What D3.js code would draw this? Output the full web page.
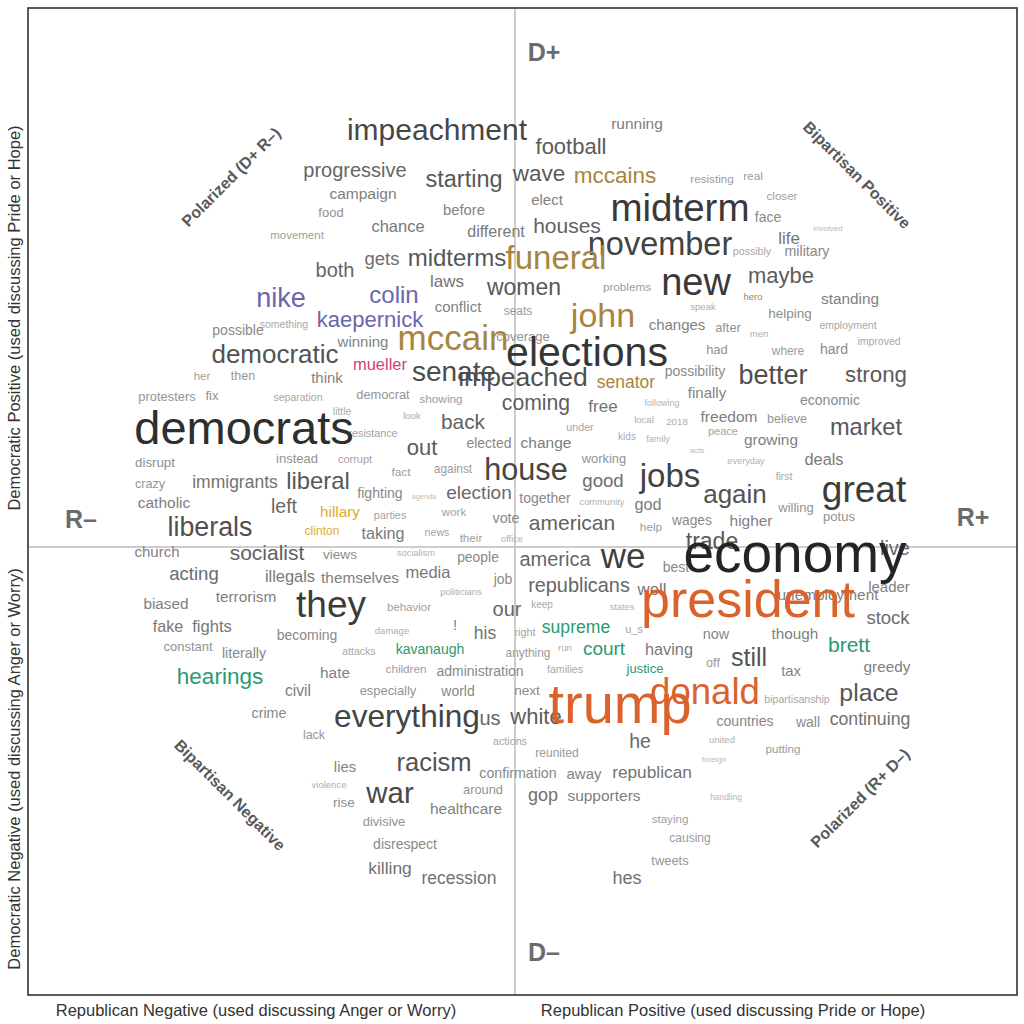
<!DOCTYPE html>
<html><head><meta charset="utf-8">
<script src="https://cdn.jsdelivr.net/npm/d3@7"></script>
<style>body{margin:0;background:#fff}svg{display:block}</style>
</head><body>
<svg id="chart" width="1024" height="1024"></svg>
<script>
// ---- DATA ----
const words = [
"impeachment","progressive","campaign","food","movement","both","nike","possible","something","kaepernick",
"colin","democratic","winning","mueller","her","then","think","gets","midterms","chance",
"before","different","starting","laws","conflict","women","seats","mccain","coverage","funeral",
"senate","impeached","elections","john","senator","football","running","wave","mccains","elect",
"houses","midterm","november","new","problems","changes","resisting","real","closer","face",
"involved","life","possibly","military","maybe","hero","speak","standing","helping","after",
"men","employment","improved","had","where","hard","possibility","better","strong","finally",
"economic","following","local","2018","freedom","believe","market","peace","family","kids",
"growing","acts","everyday","deals","first","jobs","great","again","willing","wages",
"higher","potus","trade","economy","live","best","leader","unemployment","president","stock",
"now","though","brett","having","off","still","tax","greedy","justice","donald",
"bipartisanship","place","countries","wall","continuing","united","putting","foreign","handling","staying",
"causing","tweets","republican","hes","he","trump","supporters","away","gop","reunited",
"confirmation","actions","white","us","everything","next","world","especially","administration","children",
"families","kavanaugh","attacks","anything","run","court","supreme","u_s","right","his",
"!","damage","our","keep","states","behavior","politicians","racism","around","war",
"healthcare","divisive","disrespect","killing","recession","lies","violence","rise","lack","crime",
"civil","hate","hearings","literally","constant","becoming","fake","fights","biased","terrorism",
"they","protesters","fix","separation","democrat","showing","little","look","resistance","back",
"coming","free","under","elected","change","out","instead","corrupt","fact","against",
"house","working","good","immigrants","liberal","fighting","agenda","election","together","community",
"god","disrupt","crazy","catholic","left","hillary","clinton","liberals","parties","work",
"vote","american","help","taking","news","their","office","church","socialist","views",
"socialism","people","america","we","acting","illegals","themselves","media","job","republicans",
"well","democrats"];

// Republican sentiment score (x axis)
const repScore = [
-0.78,-1.60,-1.52,-1.84,-2.18,-1.80,-2.34,-2.77,-2.31,-1.45,
-1.21,-2.40,-1.52,-1.35,-3.13,-2.72,-1.88,-1.33,-0.58,-1.17,
-0.51,-0.19,-0.51,-0.68,-0.57,0.09,0.03,-0.62,0.08,0.41,
-0.61,0.08,0.72,0.88,1.11,0.56,1.22,0.24,1.00,0.32,
0.52,1.65,1.45,1.81,1.12,1.62,1.97,2.38,2.67,2.53,
3.13,2.74,2.37,2.92,2.66,2.38,1.88,3.35,2.75,2.13,
2.44,3.33,3.64,2.02,2.73,3.19,1.80,2.58,3.61,1.92,
3.15,1.47,1.29,1.62,2.14,2.72,3.51,2.08,1.43,1.12,
2.56,1.82,2.31,3.09,2.69,1.55,3.49,2.20,2.81,1.77,
2.36,3.24,1.97,2.80,3.80,1.61,3.74,3.13,2.33,3.73,
2.01,2.80,3.34,1.54,1.98,2.34,2.76,3.72,1.30,1.90,
2.82,3.54,2.30,2.93,3.55,2.07,2.68,1.99,2.11,1.55,
1.75,1.55,1.37,1.12,1.25,1.05,0.89,0.69,0.28,0.42,
0.03,-0.05,0.21,-0.25,-1.08,0.12,-0.57,-1.27,-0.35,-1.09,
0.50,-0.85,-1.56,0.13,0.50,0.89,0.61,1.19,0.10,-0.30,
-0.60,-1.23,-0.08,0.27,1.07,-1.06,-0.54,-0.81,-0.32,-1.25,
-0.49,-1.31,-1.10,-1.25,-0.56,-1.70,-1.86,-1.71,-2.01,-2.46,
-2.17,-1.80,-2.95,-2.71,-3.27,-2.08,-3.47,-3.03,-3.49,-2.69,
-1.84,-3.48,-3.03,-2.17,-1.32,-0.74,-1.73,-1.03,-1.42,-0.52,
0.21,0.88,0.65,-0.26,0.31,-0.93,-2.18,-1.60,-1.14,-0.62,
0.11,0.89,0.88,-2.80,-1.97,-1.35,-0.91,-0.36,0.30,0.87,
1.33,-3.60,-3.65,-3.51,-2.31,-1.75,-1.93,-3.05,-1.25,-0.61,
-0.09,0.57,1.36,-1.32,-0.78,-0.44,-0.03,-3.58,-2.48,-1.75,
-0.99,-0.37,0.40,1.08,-3.21,-2.25,-1.55,-0.87,-0.12,0.64,
1.37,-2.71];

// Democratic sentiment score (y axis)
const demScore = [
4.17,3.77,3.53,3.34,3.12,2.77,2.49,2.17,2.22,2.27,
2.52,1.93,2.05,1.82,1.71,1.71,1.69,2.88,2.89,3.20,
3.37,3.15,3.68,2.66,2.40,2.60,2.36,2.09,2.10,2.89,
1.75,1.70,1.95,2.31,1.65,4.00,4.23,3.73,3.71,3.47,
3.21,3.39,3.03,2.65,2.60,2.22,3.68,3.71,3.51,3.30,
3.19,3.09,2.95,2.96,2.71,2.50,2.40,2.48,2.33,2.19,
2.13,2.21,2.05,1.97,1.96,1.98,1.76,1.72,1.72,1.54,
1.47,1.44,1.27,1.25,1.30,1.28,1.20,1.16,1.08,1.10,
1.07,0.97,0.86,0.87,0.70,0.71,0.57,0.53,0.39,0.27,
0.26,0.30,0.06,-0.07,-0.01,-0.20,-0.40,-0.48,-0.53,-0.71,
-0.87,-0.87,-0.98,-1.03,-1.16,-1.11,-1.24,-1.20,-1.22,-1.45,
-1.53,-1.46,-1.74,-1.75,-1.72,-1.93,-2.02,-2.12,-2.50,-2.72,
-2.91,-3.14,-2.25,-3.31,-1.95,-1.58,-2.49,-2.27,-2.48,-2.06,
-2.26,-1.94,-1.70,-1.71,-1.70,-1.44,-1.44,-1.44,-1.24,-1.22,
-1.23,-1.02,-1.05,-1.06,-1.01,-1.02,-0.80,-0.82,-0.85,-0.86,
-0.78,-0.84,-0.62,-0.58,-0.60,-0.60,-0.45,-2.16,-2.43,-2.46,
-2.62,-2.75,-2.97,-3.21,-3.31,-2.20,-2.38,-2.56,-1.88,-1.66,
-1.44,-1.26,-1.30,-1.06,-1.00,-0.88,-0.80,-0.80,-0.57,-0.50,
-0.58,1.50,1.51,1.49,1.52,1.48,1.35,1.31,1.14,1.25,
1.44,1.41,1.20,1.04,1.04,0.99,0.88,0.88,0.75,0.78,
0.77,0.88,0.66,0.65,0.66,0.54,0.50,0.54,0.49,0.45,
0.42,0.84,0.63,0.44,0.40,0.35,0.16,0.20,0.32,0.35,
0.29,0.24,0.20,0.13,0.15,0.09,0.08,-0.05,-0.06,-0.07,
-0.06,-0.10,-0.12,-0.09,-0.27,-0.30,-0.31,-0.26,-0.32,-0.38,
-0.42,1.19];

// relative frequency (word weight)
const weight = [
3.0,2.0,1.55,1.3,1.15,2.0,2.7,1.4,1.05,2.2,
2.4,2.6,1.5,1.65,1.15,1.25,1.5,1.85,2.4,1.65,
1.48,1.6,2.35,1.7,1.5,2.3,1.2,3.5,1.3,3.3,
2.8,2.65,4.1,3.4,1.75,2.2,1.55,2.25,2.25,1.5,
2.1,3.85,3.25,3.8,1.17,1.5,1.17,1.18,1.16,1.4,
0.8,1.7,1.06,1.42,2.2,0.95,0.95,1.53,1.35,1.28,
0.95,1.05,1.05,1.3,1.19,1.4,1.4,2.7,2.23,1.5,
1.4,0.9,0.95,0.97,1.55,1.26,2.36,1.1,0.9,1.0,
1.54,0.8,0.92,1.63,1.03,3.3,3.7,2.6,1.3,1.38,
1.54,1.3,2.3,5.5,2.0,1.4,1.5,1.54,5.2,1.85,
1.44,1.53,2.1,1.63,1.26,2.5,1.48,1.53,1.3,3.66,
1.06,2.48,1.41,1.4,1.77,0.95,1.17,0.8,0.84,1.16,
1.2,1.29,1.73,1.8,1.95,5.6,1.55,1.5,1.8,1.2,
1.42,1.07,2.2,2.0,3.16,1.36,1.4,1.29,1.4,1.17,
1.06,1.4,1.05,1.19,0.97,1.9,1.76,1.1,1.08,1.75,
1.5,0.95,2.0,1.0,0.93,1.15,0.95,2.55,1.28,2.94,
1.54,1.3,1.4,1.74,1.75,1.49,0.95,1.35,1.25,1.43,
1.56,1.54,2.25,1.42,1.3,1.4,1.62,1.66,1.53,1.54,
3.7,1.29,1.3,1.05,1.28,1.18,1.03,0.96,1.08,2.08,
2.12,1.7,1.07,1.4,1.55,2.2,1.3,1.1,1.18,1.19,
3.06,1.29,1.86,1.75,2.38,1.41,0.75,1.9,1.4,0.93,
1.62,1.33,1.26,1.55,1.95,1.53,1.21,2.68,1.09,1.15,
1.43,2.1,1.18,1.62,1.07,1.17,0.93,1.5,2.1,1.37,
0.92,1.39,2.0,3.5,1.86,1.64,1.54,1.65,1.4,1.99,
1.68,4.7];

// topic clusters (coloured words)
const mccainWords = ["mccain","funeral","john","senator","mccains","hero"];
const kaepernickWords = ["nike","colin","kaepernick"];
const muellerWords = ["mueller"];
const clintonWords = ["hillary","clinton"];
const kavanaughWords = ["kavanaugh","supreme","court","justice","brett","hearings"];
const trumpWords = ["trump","president","donald"];

const quadrantLabels = ["D+","D–","R–","R+"];
const diagonalLabels = ["Polarized (D+ R–)","Bipartisan Positive","Bipartisan Negative","Polarized (R+ D–)"];
const xAxisTitles = ["Republican Negative (used discussing Anger or Worry)","Republican Positive (used discussing Pride or Hope)"];
const yAxisTitles = ["Democratic Positive (used discussing Pride or Hope)","Democratic Negative (used discussing Anger or Worry)"];

// ---- CHART ----
if (![repScore, demScore, weight].every(a => a.length === words.length)) {
  console.error("length mismatch", words.length, repScore.length, demScore.length, weight.length);
}
const FONT = "'Liberation Sans', Arial, Helvetica, sans-serif";
const svg = d3.select("#chart");
const x = d3.scaleLinear().domain([-4.87, 5.02]).range([28, 1017]);
const y = d3.scaleLinear().domain([-4.48, 5.39]).range([995, 8]);
const fontSize = d3.scaleLinear().domain([0, 6]).range([0, 60]);
const grey = d3.scaleLinear()
  .domain([7.5, 11, 14, 17, 22, 30, 40, 55])
  .range(["#bdbdbd","#a3a3a3","#898989","#747474","#5c5c5c","#474747","#373737","#242424"]);

const topicColor = new Map();
mccainWords.forEach(w => topicColor.set(w, "#a8853e"));
kaepernickWords.forEach(w => topicColor.set(w, "#6c66aa"));
muellerWords.forEach(w => topicColor.set(w, "#d43c80"));
clintonWords.forEach(w => topicColor.set(w, "#dcae2c"));
kavanaughWords.forEach(w => topicColor.set(w, "#2b9a72"));
trumpWords.forEach(w => topicColor.set(w, "#da632d"));

svg.append("rect").attr("width", 1024).attr("height", 1024).attr("fill", "#fff");

// centre lines
svg.append("line").attr("x1", x(0)).attr("x2", x(0)).attr("y1", y(5.39)).attr("y2", y(-4.48))
  .attr("stroke", "#bdbdbd").attr("stroke-width", 1.5);
svg.append("line").attr("x1", x(-4.87)).attr("x2", x(5.02)).attr("y1", y(0)).attr("y2", y(0))
  .attr("stroke", "#bdbdbd").attr("stroke-width", 1.5);

// quadrant labels
const qPos = [[0.29, 4.95], [0.29, -4.05], [-4.34, 0.28], [4.58, 0.30]];
svg.selectAll("text.q").data(quadrantLabels).join("text").attr("class", "q")
  .attr("x", (d, i) => x(qPos[i][0])).attr("y", (d, i) => y(qPos[i][1]))
  .attr("dy", "0.36em").attr("text-anchor", "middle")
  .attr("font-family", FONT).attr("font-weight", "bold").attr("font-size", 25)
  .attr("fill", "#6b6b6b").text(d => d);

// diagonal labels
const dPos = [[-2.84, 3.70, -45], [3.42, 3.72, 45], [-2.85, -2.48, 45], [3.45, -2.51, -45]];
svg.selectAll("text.diag").data(diagonalLabels).join("text").attr("class", "diag")
  .attr("transform", (d, i) => `translate(${x(dPos[i][0])},${y(dPos[i][1])}) rotate(${dPos[i][2]})`)
  .attr("dy", "0.35em").attr("text-anchor", "middle")
  .attr("font-family", FONT).attr("font-weight", "bold").attr("font-size", 16)
  .attr("fill", "#5a5a5a").text(d => d);

// words
const data = words.map((w, i) => ({ w, xr: repScore[i], yd: demScore[i], s: fontSize(weight[i]) }))
  .sort((a, b) => a.s - b.s);
svg.append("g").selectAll("text").data(data).join("text")
  .attr("x", d => x(d.xr)).attr("y", d => y(d.yd))
  .attr("dy", "0.33em").attr("text-anchor", "middle")
  .attr("font-family", FONT).attr("font-size", d => d.s)
  .attr("fill", d => topicColor.get(d.w) || grey(d.s))
  .text(d => d.w);

// frame
svg.append("rect").attr("x", x(-4.87)).attr("y", y(5.39))
  .attr("width", x(5.02) - x(-4.87)).attr("height", y(-4.48) - y(5.39))
  .attr("fill", "none").attr("stroke", "#333").attr("stroke-width", 1.6);

// axis titles
svg.selectAll("text.xt").data(xAxisTitles).join("text").attr("class", "xt")
  .attr("x", (d, i) => i === 0 ? 256 : 733).attr("y", 1010)
  .attr("dy", "0.35em").attr("text-anchor", "middle")
  .attr("font-family", FONT).attr("font-size", 16.5).attr("fill", "#333").text(d => d);
svg.selectAll("text.yt").data(yAxisTitles).join("text").attr("class", "yt")
  .attr("transform", (d, i) => `translate(14,${i === 0 ? 318 : 769}) rotate(-90)`)
  .attr("dy", "0.35em").attr("text-anchor", "middle")
  .attr("font-family", FONT).attr("font-size", 16.5).attr("fill", "#333").text(d => d);
</script>
</body></html>
